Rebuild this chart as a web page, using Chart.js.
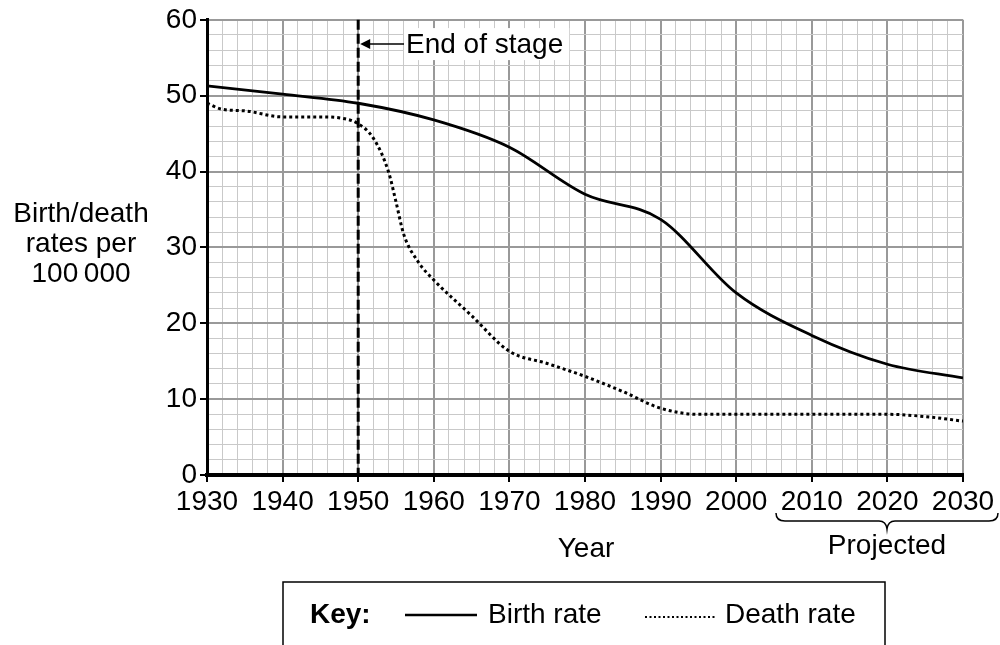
<!DOCTYPE html>
<html>
<head>
<meta charset="utf-8">
<script src="https://cdn.jsdelivr.net/npm/chart.js@4.4.1/dist/chart.umd.min.js"></script>
<style>
  html, body { margin: 0; padding: 0; background: #fff; }
  #wrap { width: 1000px; height: 645px; }
</style>
</head>
<body>
<div id="wrap"><canvas id="chart" width="1000" height="645"></canvas></div>
<script>
// data
const birthYears = [1930, 1940, 1950, 1960, 1970, 1980, 1990, 2000, 2010, 2020, 2030];
const birthRate = [51.3, 50.2, 49, 46.8, 43.2, 37, 33.7, 24, 18.4, 14.6, 12.8];

const deathYears = [1930, 1932, 1935, 1940, 1945, 1948, 1950, 1952, 1954, 1955, 1956, 1958, 1960, 1965, 1970, 1975, 1980, 1985, 1990, 1995, 2000, 2010, 2020, 2025, 2030];
const deathRate = [49, 48.2, 48, 47.2, 47.2, 47, 46.3, 44.4, 40, 36, 31.8, 28, 25.7, 21, 16.3, 14.7, 13, 11, 8.8, 8, 8, 8, 8, 7.7, 7.1];

const xTicks = [1930, 1940, 1950, 1960, 1970, 1980, 1990, 2000, 2010, 2020, 2030];
const yTicks = [0, 10, 20, 30, 40, 50, 60];
const stageEndYear = 1950;
const stageLabel = "End of stage";
const yTitle = ["Birth/death", "rates per", "100\u2009000"];

const FONT = '"Liberation Sans", Arial, sans-serif';
const SIZE = 28;
const isMajor = v => v % 10 === 0;

const extras = {
  id: "extras",
  beforeDatasetsDraw(chart) {
    const { ctx, chartArea, scales: { x } } = chart;
    const xs = x.getPixelForValue(stageEndYear);
    ctx.save();
    ctx.strokeStyle = "#000";
    ctx.lineWidth = 3;
    ctx.setLineDash([10, 4]);
    ctx.beginPath();
    ctx.moveTo(xs, chartArea.top);
    ctx.lineTo(xs, chartArea.bottom);
    ctx.stroke();
    ctx.restore();
  },
  afterDraw(chart) {
    const { ctx, scales: { x, y } } = chart;
    ctx.save();
    ctx.fillStyle = "#000";
    ctx.strokeStyle = "#000";
    ctx.textBaseline = "middle";

    // "End of stage" label with arrow
    const xs = x.getPixelForValue(stageEndYear);
    const ya = y.getPixelForValue(56.8);
    ctx.font = SIZE + "px " + FONT;
    const tw = ctx.measureText(stageLabel).width;
    ctx.fillStyle = "#fff";
    ctx.fillRect(404, ya - 16, tw + 8, 32);
    ctx.fillStyle = "#000";
    ctx.textAlign = "left";
    ctx.fillText(stageLabel, 406, ya + 1);
    ctx.lineWidth = 1.5;
    ctx.beginPath();
    ctx.moveTo(xs + 8, ya);
    ctx.lineTo(404, ya);
    ctx.stroke();
    ctx.beginPath();
    ctx.moveTo(xs + 2, ya);
    ctx.lineTo(xs + 12, ya - 5);
    ctx.lineTo(xs + 12, ya + 5);
    ctx.closePath();
    ctx.fill();

    // y title
    ctx.textAlign = "center";
    yTitle.forEach((t, i) => ctx.fillText(t, 81, 214 + i * 30));

    // x title
    ctx.fillText("Year", 586, 549);

    // projected brace
    ctx.lineWidth = 1.5;
    ctx.beginPath();
    ctx.moveTo(776, 513);
    ctx.quadraticCurveTo(776, 521, 785, 521);
    ctx.lineTo(879, 521);
    ctx.quadraticCurveTo(886, 521, 887, 529);
    ctx.quadraticCurveTo(888, 521, 895, 521);
    ctx.lineTo(989, 521);
    ctx.quadraticCurveTo(998, 521, 998, 513);
    ctx.stroke();
    ctx.fillText("Projected", 887, 546);

    // key box
    ctx.lineWidth = 1.5;
    ctx.strokeRect(283, 582, 602, 80);
    ctx.textAlign = "left";
    ctx.font = "bold " + SIZE + "px " + FONT;
    ctx.fillText("Key:", 310, 615);
    ctx.font = SIZE + "px " + FONT;
    ctx.lineWidth = 2.5;
    ctx.beginPath();
    ctx.moveTo(405, 615);
    ctx.lineTo(477, 615);
    ctx.stroke();
    ctx.fillText("Birth rate", 488, 615);
    ctx.setLineDash([2, 2.5]);
    ctx.lineWidth = 2;
    ctx.beginPath();
    ctx.moveTo(645, 617);
    ctx.lineTo(716, 617);
    ctx.stroke();
    ctx.setLineDash([]);
    ctx.fillText("Death rate", 725, 615);
    ctx.restore();
  }
};

const gridColor = c => isMajor(c.tick.value) ? "#999" : "#c9c9c9";
const gridWidth = c => isMajor(c.tick.value) ? 2 : 1;
const tickColor = c => isMajor(c.tick.value) ? "#000" : "rgba(0,0,0,0)";

new Chart(document.getElementById("chart").getContext("2d"), {
  type: "line",
  data: {
    datasets: [
      {
        label: "Birth rate",
        data: birthYears.map((yr, i) => ({ x: yr, y: birthRate[i] })),
        borderColor: "#000",
        borderWidth: 2.8,
        pointRadius: 0,
        cubicInterpolationMode: "monotone"
      },
      {
        label: "Death rate",
        data: deathYears.map((yr, i) => ({ x: yr, y: deathRate[i] })),
        borderColor: "#000",
        borderWidth: 3,
        borderDash: [3, 3],
        pointRadius: 0,
        cubicInterpolationMode: "monotone"
      }
    ]
  },
  options: {
    responsive: false,
    animation: false,
    layout: { padding: { top: 19, right: 37, left: 0, bottom: 0 } },
    plugins: { legend: { display: false }, tooltip: { enabled: false } },
    scales: {
      x: {
        type: "linear",
        min: xTicks[0],
        max: xTicks[xTicks.length - 1],
        ticks: {
          stepSize: 2,
          autoSkip: false,
          maxRotation: 0,
          padding: 3,
          color: "#000",
          font: { family: FONT, size: SIZE },
          callback: v => (isMajor(v) ? String(v) : "")
        },
        grid: { color: gridColor, lineWidth: gridWidth, tickColor: tickColor, tickLength: 7 },
        border: { color: "#000", width: 4 },
        afterFit: s => { s.height = 170; }
      },
      y: {
        min: yTicks[0],
        max: yTicks[yTicks.length - 1],
        ticks: {
          stepSize: 2,
          autoSkip: false,
          padding: 3,
          color: "#000",
          font: { family: FONT, size: SIZE },
          callback: v => (isMajor(v) ? String(v) : "")
        },
        grid: { color: gridColor, lineWidth: gridWidth, tickColor: tickColor, tickLength: 7 },
        border: { color: "#000", width: 3 },
        afterFit: s => { s.width = 207; }
      }
    }
  },
  plugins: [extras]
});
</script>
</body>
</html>
